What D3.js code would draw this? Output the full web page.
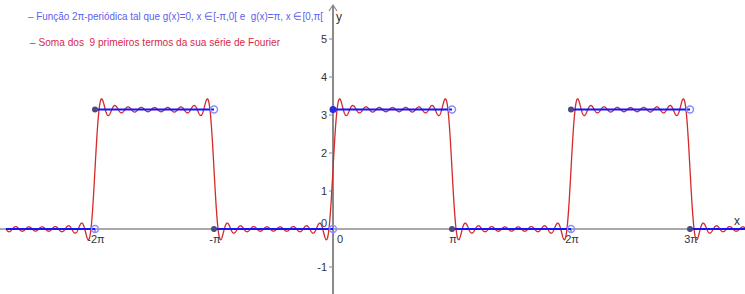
<!DOCTYPE html>
<html>
<head>
<meta charset="utf-8">
<script src="https://cdn.jsdelivr.net/npm/d3@7"></script>
<style>
  body { margin: 0; background: #fff; }
  svg { display: block; font-family: "Liberation Sans", Arial, sans-serif; }
  .legend { white-space: pre; }
</style>
</head>
<body>
<svg id="chart" width="745" height="294"></svg>
<script>
const PI = Math.PI;

// g(x): pieces [start, end] in multiples of pi, with value
const pieceStarts = [-3, -2, -1, 0, 1, 2, 3];
const pieceEnds = [-2, -1, 0, 1, 2, 3, 4];
const pieceValues = [0, PI, 0, PI, 0, PI, 0];

// Fourier partial sum: a0/2 + sum b_k sin(kx), 9 odd harmonics
const fourierConst = PI / 2;
const harmonics = [1, 3, 5, 7, 9, 11, 13, 15, 17];
const sineCoefs = harmonics.map((k) => 2 / k);

// ticks
const yTicks = [-1, 1, 2, 3, 4, 5];
const xTickMult = [-2, -1, 1, 2, 3];
const xTickLabels = ["-2π", "-π", "π", "2π", "3π"];

const legendLines = [
  { text: "– Função 2π-periódica tal que g(x)=0, x ∈[-π,0[ e  g(x)=π, x ∈[0,π[", color: "#6060f0", w: 295 },
  { text: "– Soma dos  9 primeiros termos da sua série de Fourier", color: "#d8284c", w: 250 }
];

const width = 745, height = 294;
const unitX = 119 / PI, unitY = 38;
const x = d3.scaleLinear().domain([-333 / unitX, (width - 333) / unitX]).range([0, width]);
const y = d3.scaleLinear().domain([-(height - 229) / unitY, 229 / unitY]).range([height, 0]);
const plotStart = x.invert(6);

const svg = d3.select("#chart");

// axes
const x0 = x(0), y0 = y(0);
svg.append("line").attr("x1", 0).attr("x2", width).attr("y1", y0).attr("y2", y0)
  .attr("stroke", "#555").attr("stroke-width", 1.2);
svg.append("line").attr("x1", x0).attr("x2", x0).attr("y1", 5).attr("y2", height)
  .attr("stroke", "#8a8a8a").attr("stroke-width", 2);
svg.append("path").attr("d", `M${x0 - 4},${11} L${x0},${5} L${x0 + 4},${11}`)
  .attr("fill", "none").attr("stroke", "#8a8a8a").attr("stroke-width", 1.2);

// y ticks
const yg = svg.append("g");
yTicks.forEach((t) => {
  yg.append("line").attr("x1", x0 - 4).attr("x2", x0).attr("y1", y(t)).attr("y2", y(t))
    .attr("stroke", "#8a8a8a").attr("stroke-width", 1);
  yg.append("text").attr("x", x0 - 6).attr("y", y(t) + 4).attr("text-anchor", "end")
    .attr("font-size", 11).attr("fill", "#333").text(t);
});
yg.append("text").attr("x", x0 - 6).attr("y", y0 - 2).attr("text-anchor", "end")
  .attr("font-size", 11).attr("fill", "#333").text("0");
svg.append("text").attr("x", x0 + 3).attr("y", 21).attr("font-size", 12).attr("fill", "#333").text("y");

// x ticks
xTickMult.forEach((m, i) => {
  svg.append("line").attr("x1", x(m * PI)).attr("x2", x(m * PI)).attr("y1", y0).attr("y2", y0 + 3)
    .attr("stroke", "#555").attr("stroke-width", 1);
  svg.append("text").attr("x", x(m * PI) + 1).attr("y", y0 + 14).attr("text-anchor", "middle")
    .attr("font-size", 11).attr("fill", "#333").text(xTickLabels[i]);
});
svg.append("text").attr("x", x0 + 4).attr("y", y0 + 14).attr("font-size", 11).attr("fill", "#333").text("0");
svg.append("text").attr("x", width - 11).attr("y", y0 - 4).attr("font-size", 12).attr("fill", "#333").text("x");

// Fourier curve
const xs = d3.range(plotStart, x.domain()[1] + 0.01, 0.005);
const fourier = (t) => fourierConst + d3.sum(harmonics, (k, i) => sineCoefs[i] * Math.sin(k * t));
const curve = d3.line().x((d) => x(d)).y((d) => y(fourier(d)));
svg.append("path").datum(xs).attr("d", curve)
  .attr("fill", "none").attr("stroke", "#d42a2a").attr("stroke-width", 1.3);

// g pieces
const pieces = pieceStarts.map((s, i) => ({ a: s * PI, b: pieceEnds[i] * PI, v: pieceValues[i] }));
const [xmin, xmax] = [plotStart, x.domain()[1]];
svg.append("g").selectAll("line").data(pieces).join("line")
  .attr("x1", (d) => x(Math.max(d.a, xmin))).attr("x2", (d) => x(Math.min(d.b, xmax)))
  .attr("y1", (d) => y(d.v)).attr("y2", (d) => y(d.v))
  .attr("stroke", "#1414ff").attr("stroke-width", 2);

// endpoints: open at right end, closed at left start
const visible = pieces.filter((d) => d.b <= xmax + 1e-9 && d.b >= xmin);
svg.append("g").selectAll("circle").data(visible).join("circle")
  .attr("cx", (d) => x(d.b)).attr("cy", (d) => y(d.v)).attr("r", 3.5)
  .attr("fill", "none").attr("stroke", "#8c8cff").attr("stroke-width", 1.5);
const starts = pieces.filter((d) => d.a >= xmin && d.a <= xmax);
svg.append("g").selectAll("circle").data(starts).join("circle")
  .attr("cx", (d) => x(d.a)).attr("cy", (d) => y(d.v))
  .attr("r", (d) => (d.a === 0 ? 3.5 : 3))
  .attr("fill", (d) => (d.a === 0 ? "#2a2ae0" : "#4a4a80"));

// legend
legendLines.forEach((l, i) => {
  svg.append("text").attr("class", "legend").attr("x", 28 + i * 2).attr("y", 20 + i * 26)
    .attr("font-size", 11).attr("fill", l.color)
    .attr("textLength", l.w).attr("lengthAdjust", "spacingAndGlyphs").text(l.text);
});
</script>
</body>
</html>
